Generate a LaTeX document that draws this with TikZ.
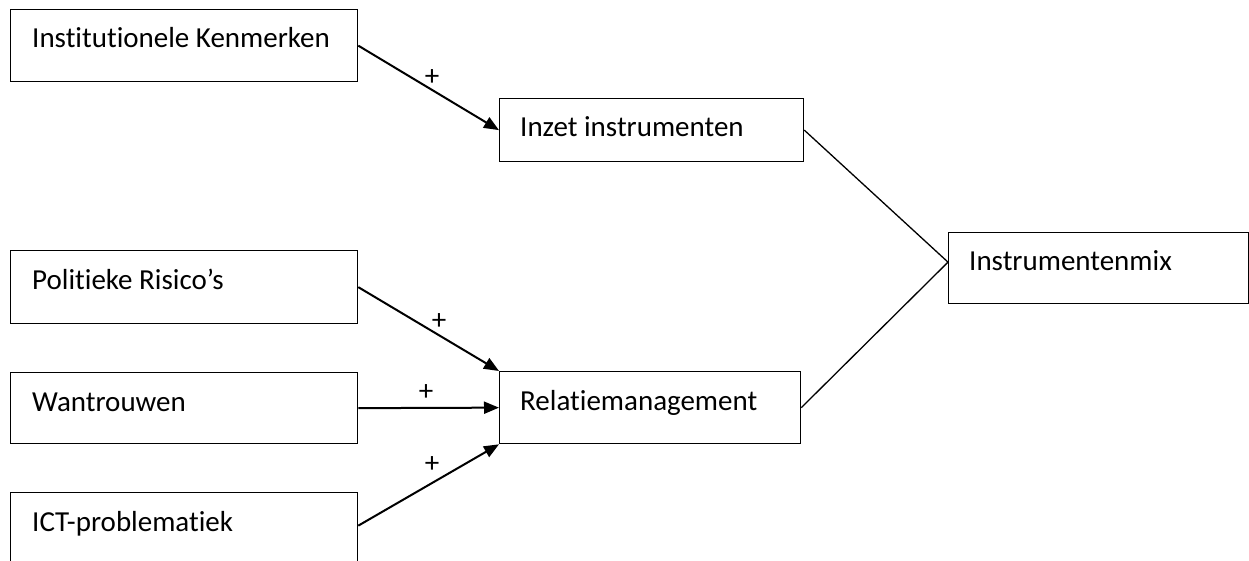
\documentclass[tikz,border=0pt]{standalone}
\usepackage{fontspec}
\setmainfont[Ligatures=NoCommon]{Carlito}
\usetikzlibrary{calc,arrows.meta}
\tikzset{
  box/.style={draw, line width=1.3pt, anchor=north west, inner sep=0pt, minimum width=#1},
  lbl/.style={anchor=base west, inner sep=0pt, font=\fontsize{29}{33}\selectfont},
  plus/.style={inner sep=0pt, font=\fontsize{29}{33}\selectfont},
  arr/.style={line width=2pt, -{Triangle[length=15pt,width=12pt]}},
  thin/.style={line width=1.3pt}
}
\begin{document}
\begin{tikzpicture}[x=1pt,y=-1pt]
\useasboundingbox (0,0) rectangle (1249,561);
\clip (0,0) rectangle (1249,561);
\node[box=347pt, minimum height=72pt] (inst) at (10,9) {};
\node[box=304pt, minimum height=63pt] (inzet) at (499,98) {};
\node[box=347pt, minimum height=73pt] (pol) at (10,250) {};
\node[box=347pt, minimum height=71pt] (wan) at (10,372) {};
\node[box=347pt, minimum height=72pt] (ict) at (10,492) {};
\node[box=301pt, minimum height=72pt] (rel) at (499,371) {};
\node[box=300pt, minimum height=71pt] (mix) at (948,232) {};

\node[lbl] (tinst) at ($(inst.north west)+(22,39)$) {Institutionele Kenmerken};
\node[lbl] (tinzet) at ($(inzet.north west)+(21,39)$) {Inzet instrumenten};
\node[lbl] (tpol) at ($(pol.north west)+(22,39)$) {Politieke Risico’s};
\node[lbl] (twan) at ($(wan.north west)+(22,39)$) {Wantrouwen};
\node[lbl] (tict) at ($(ict.north west)+(22,39)$) {ICT-problematiek};
\node[lbl] (trel) at ($(rel.north west)+(21,39)$) {Relatiemanagement};
\node[lbl] (tmix) at ($(mix.north west)+(21,38)$) {Instrumentenmix};

\coordinate (conv) at ($(mix.west)+(0,-6)$);

\draw[arr] (inst.east) -- (inzet.west);
\draw[arr] (pol.east) -- (rel.north west);
\draw[arr] (wan.east) -- (rel.west);
\draw[arr] ($(ict.east)+(0,-3)$) -- (rel.south west);
\draw[thin] (inzet.east) -- (conv);
\draw[thin] (rel.east) -- (conv);

\node[plus] (p1) at (432,78) {+};
\node[plus] (p2) at (439,322) {+};
\node[plus] (p3) at (426,393) {+};
\node[plus] (p4) at (432,465) {+};
\end{tikzpicture}
\end{document}
